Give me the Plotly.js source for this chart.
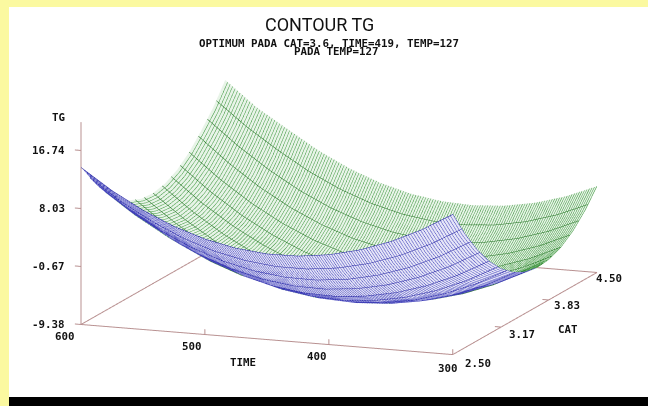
<!DOCTYPE html>
<html><head><meta charset="utf-8">
<script src="https://cdn.plot.ly/plotly-3.0.1.min.js"></script>
<style>html,body{margin:0;padding:0;background:#fbf9a0;overflow:hidden}
#p{position:absolute;left:9px;top:7px;width:639px;height:390px;background:#fff}
#k{position:absolute;left:9px;top:397px;width:639px;height:9px;background:#000}
#c{position:absolute;left:0;top:0;width:648px;height:406px}</style>
</head><body><div id="p"></div><div id="k"></div><div id="c"></div>
<script>
const timeValues=[300,325,350,375,400,425,450,475,500,525,550,575,600];
const catValues=[2.5,2.667,2.833,3,3.167,3.333,3.5,3.667,3.833,4,4.167,4.333,4.5];
const tgValues=[
[11.66,8.98,6.83,5.20,4.10,3.52,3.47,3.95,4.95,6.47,8.52,11.09,14.19],
[7.70,5.09,3.01,1.45,0.41,-0.10,-0.08,0.47,1.53,3.12,5.24,7.88,11.04],
[4.34,1.80,-0.22,-1.72,-2.69,-3.13,-3.05,-2.44,-1.31,0.35,2.53,5.23,8.46],
[1.56,-0.92,-2.87,-4.30,-5.20,-5.58,-5.43,-4.75,-3.55,-1.83,0.42,3.19,6.49],
[-0.61,-3.02,-4.90,-6.27,-7.10,-7.41,-7.19,-6.45,-5.18,-3.39,-1.07,1.76,5.13],
[-2.17,-4.52,-6.33,-7.63,-8.40,-8.65,-8.36,-7.55,-6.22,-4.37,-1.98,0.92,4.35],
[-3.15,-5.43,-7.18,-8.41,-9.11,-9.29,-8.94,-8.06,-6.66,-4.74,-2.29,0.68,4.18],
[-3.53,-5.74,-7.43,-8.59,-9.22,-9.33,-8.92,-7.97,-6.50,-4.51,-2.00,1.04,4.61],
[-3.30,-5.45,-7.07,-8.16,-8.73,-8.78,-8.30,-7.28,-5.75,-3.70,-1.12,1.99,5.62],
[-2.49,-4.57,-6.12,-7.15,-7.65,-7.63,-7.08,-6.00,-4.40,-2.28,0.37,3.54,7.24],
[-1.08,-3.10,-4.58,-5.54,-5.97,-5.89,-5.27,-4.12,-2.45,-0.27,2.45,5.69,9.46],
[0.94,-1.01,-2.43,-3.32,-3.69,-3.54,-2.86,-1.64,0.09,2.34,5.12,8.30,11.90],
[3.56,1.68,0.33,-0.50,-0.80,-0.58,0.17,1.45,3.25,5.57,8.42,11.30,15.00]];
const foldCat=[3.63,3.56,3.48,3.41,3.34,3.27,3.19,3.12,3.05,2.98,2.91,2.83,2.76];
const zTicks=[-9.38,-0.67,8.03,16.74];
const zLabels=['-9.38','-0.67','8.03','16.74'];
const timeTicks=[600,500,400,300];
const timeLabels=['600','500','400','300'];
const catTicks=[2.5,3.17,3.83,4.5];
const catLabels=['2.50','3.17','3.83','4.50'];

const tMin=300,tMax=600,cMin=2.5,cMax=4.5,zMin=-9.38,zTop=21;
const blueZ=tgValues.map((r,j)=>r.map((z,i)=>(j===0||catValues[j-1]<=foldCat[i])?z:null));
const greenZ=tgValues.map((r,j)=>r.map((z,i)=>(j===catValues.length-1||catValues[j+1]>=foldCat[i])?z:null));
function sheet(z,fill,thin,thick){return {type:'surface',x:timeValues,y:catValues,z:z,showscale:false,hoverinfo:'skip',
 colorscale:[[0,fill],[1,fill]],lighting:{ambient:1,diffuse:0,specular:0,roughness:1,fresnel:0},
 contours:{x:{show:true,start:tMin,end:tMax,size:2,color:thin,width:2,highlight:false},
           y:{show:true,start:cMin,end:cMax,size:0.125,color:thick,width:2,highlight:false},
           z:{show:false,highlight:false}}};}
const ax=[],ay=[],az=[];
function seg(a,b){ax.push(a[0],b[0],null);ay.push(a[1],b[1],null);az.push(a[2],b[2],null);}
seg([tMax,cMin,zMin],[tMax,cMin,zTop]);
seg([tMax,cMin,zMin],[tMin,cMin,zMin]);
seg([tMin,cMin,zMin],[tMin,cMax,zMin]);
seg([tMin,cMax,zMin],[tMax,cMax,zMin]);
seg([tMax,cMax,zMin],[tMax,cMin,zMin]);
zTicks.forEach(v=>seg([tMax,cMin,v],[tMax+5,cMin,v]));
timeTicks.forEach(v=>seg([v,cMin,zMin],[v,cMin,zMin+0.8]));
catTicks.forEach(v=>seg([tMin,v,zMin],[tMin+5,v,zMin]));
const axes={type:'scatter3d',mode:'lines',x:ax,y:ay,z:az,line:{color:'#b89090',width:2},hoverinfo:'skip',showlegend:false};
const f={family:'"DejaVu Sans Mono"',size:10.8,color:'#111',weight:'bold'};
function lab(x,y,z,text,dx,dy,anchor){return {x,y,z,text,showarrow:false,xshift:dx,yshift:dy,xanchor:anchor||'center',yanchor:'middle',font:f};}
const ann=[];
zTicks.forEach((v,i)=>ann.push(lab(tMax,cMin,v,zLabels[i],-14,0,'right')));
ann.push(lab(tMax,cMin,zTop,'TG',-23,5));
const tdx=[-16,-13,-12,-5],tdy=[-12,-12,-12,-14];
timeTicks.forEach((v,i)=>ann.push(lab(v,cMin,zMin,timeLabels[i],tdx[i],tdy[i])));
ann.push(lab(469,cMin,zMin,'TIME',0,-25));
const cdx=[25,21,18,12],cdy=[-9,-7,-6,-6];
catTicks.forEach((v,i)=>ann.push(lab(tMin,v,zMin,catLabels[i],cdx[i],cdy[i])));
ann.push(lab(tMin,3.4,zMin,'CAT',50,-12));
const hidden={visible:false};
const layout={width:648,height:406,margin:{l:0,r:0,t:0,b:0},paper_bgcolor:'rgba(0,0,0,0)',showlegend:false,
 annotations:[
  {xref:'paper',yref:'paper',x:319/648,y:(406-24)/406,yanchor:'middle',text:'CONTOUR TG',showarrow:false,font:{family:'Roboto',size:18,color:'#111'}},
  {xref:'paper',yref:'paper',x:329/648,y:(406-43)/406,yanchor:'middle',text:'OPTIMUM PADA CAT=3.6, TIME=419, TEMP=127',showarrow:false,font:f},
  {xref:'paper',yref:'paper',x:336/648,y:(406-52)/406,yanchor:'middle',text:'PADA TEMP=127',showarrow:false,font:f}],
 scene:{domain:{x:[30/648,1],y:[4/406,1]},bgcolor:'rgba(0,0,0,0)',
  xaxis:{...hidden,range:[620,280]},yaxis:{...hidden,range:[2.3,4.7]},zaxis:{...hidden,range:[-11,21.5]},
  aspectmode:'manual',aspectratio:{x:2.24,y:2.44,z:1.103},
  camera:{eye:{x:0.69,y:-1.83,z:0.43},center:{x:0,y:0,z:0},up:{x:0,y:0,z:1},projection:{type:'orthographic'}},
  annotations:ann}};
Plotly.newPlot('c',[sheet(greenZ,'#e8f4e8','#3c963c','#1e6e1e'),sheet(blueZ,'#e6e6f8','#4646bc','#2020a0'),axes],layout,{displayModeBar:false});
</script></body></html>
